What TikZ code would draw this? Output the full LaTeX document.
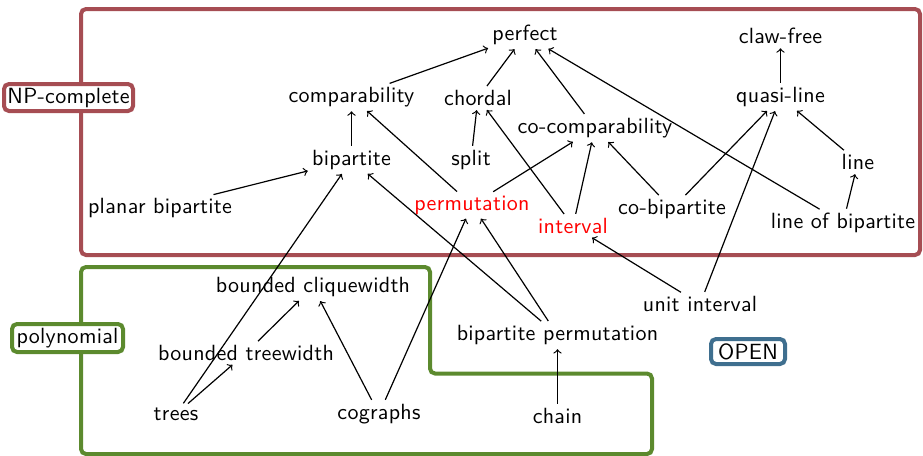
\documentclass[tikz,border=0pt]{standalone}
\usepackage{fontspec}
\setsansfont{Latin Modern Sans}[LetterSpace=1.3]
\begin{document}
\begin{tikzpicture}[x=0.5pt,y=-0.5pt,
  every node/.style={font=\sffamily\fontsize{11}{13}\selectfont, inner sep=1.5pt},
  cls/.style={},
  hard/.style={text=red},
  edge/.style={->, line width=0.6pt, shorten >=0.5pt, shorten <=0.5pt},
  region/.style={line width=2pt, rounded corners=2.5pt},
  tag/.style={draw, fill=white, line width=2pt, rounded corners=2.5pt, inner sep=0pt}]
\definecolor{npcol}{HTML}{A64D53}
\definecolor{polycol}{HTML}{5C8A2E}
\definecolor{opencol}{HTML}{3F6F8F}
\useasboundingbox (0,0) rectangle (923,456);
% regions
\draw[region, npcol] (81,9) rectangle (920,255);
\draw[region, polycol] (81,267) -- (430,267) -- (430,373.5) -- (652,373.5) -- (652,454) -- (81,454) -- cycle;
% tags
\node[tag, draw=npcol, minimum width=64.5pt, minimum height=13.5pt] (np) at (68.5,97.5) {NP-complete};
\node[tag, draw=polycol, minimum width=55.5pt, minimum height=14pt] (poly) at (67.5,338) {polynomial};
\node[tag, draw=opencol, minimum width=37pt, minimum height=12.5pt] (open) at (748,351.5) {OPEN};
% classes
\node[cls] (perfect) at (525,35) {perfect};
\node[cls] (claw) at (780.5,36) {claw-free};
\node[cls] (comp) at (351.5,97) {comparability};
\node[cls] (chordal) at (478,98) {chordal};
\node[cls] (quasi) at (780.5,97) {quasi-line};
\node[cls] (cocomp) at (595,128) {co-comparability};
\node[cls] (bip) at (351.5,160) {bipartite};
\node[cls] (split) at (471,160) {split};
\node[cls] (line) at (858,162) {line};
\node[cls] (planar) at (160,208) {planar bipartite};
\node[hard] (perm) at (472,205) {permutation};
\node[hard] (interval) at (573,226) {interval};
\node[cls] (cobip) at (672,209) {co-bipartite};
\node[cls] (lob) at (843,223) {line of bipartite};
\node[cls] (bcw) at (313,287) {bounded cliquewidth};
\node[cls] (btw) at (246,353) {bounded treewidth};
\node[cls] (trees) at (176,414) {trees};
\node[cls] (cographs) at (379,414) {cographs};
\node[cls] (unit) at (700,304) {unit interval};
\node[cls] (bperm) at (557.5,335) {bipartite permutation};
\node[cls] (chain) at (557.5,416) {chain};
% edges
\draw[edge] (comp) -- (perfect);
\draw[edge] (chordal) -- (perfect);
\draw[edge] (cocomp) -- (perfect);
\draw[edge] (lob) -- (perfect);
\draw[edge] (quasi) -- (claw);
\draw[edge] (bip) -- (comp);
\draw[edge] (perm) -- (comp);
\draw[edge] (split) -- (chordal);
\draw[edge] (interval) -- (chordal);
\draw[edge] (perm) -- (cocomp);
\draw[edge] (interval) -- (cocomp);
\draw[edge] (cobip) -- (cocomp);
\draw[edge] (cobip) -- (quasi);
\draw[edge] (unit) -- (quasi);
\draw[edge] (line) -- (quasi);
\draw[edge] (lob) -- (line);
\draw[edge] (planar) -- (bip);
\draw[edge] (trees) -- (bip);
\draw[edge] (bperm) -- (bip);
\draw[edge] (bperm) -- (perm);
\draw[edge] (cographs) -- (perm);
\draw[edge] (unit) -- (interval);
\draw[edge] (chain) -- (bperm);
\draw[edge] (trees) -- (btw);
\draw[edge] (btw) -- (bcw);
\draw[edge] (cographs) -- (bcw);
\end{tikzpicture}
\end{document}
